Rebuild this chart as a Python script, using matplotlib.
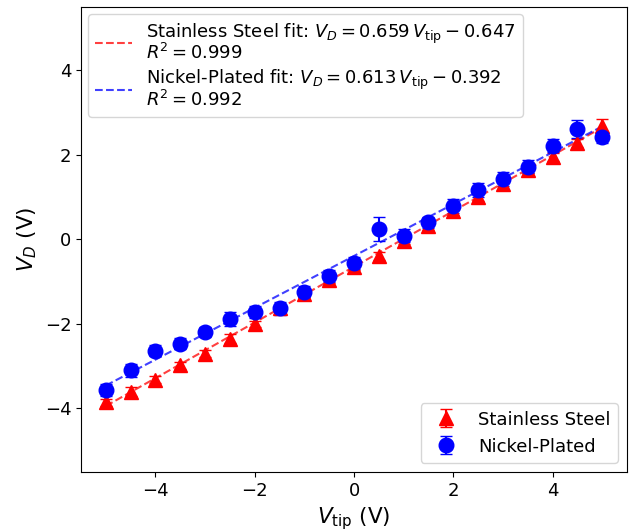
import matplotlib.pyplot as plt
import numpy as np

# tip voltage (V)
v_tip = [-5.0, -4.5, -4.0, -3.5, -3.0, -2.5, -2.0, -1.5, -1.0, -0.5, 0.0,
         0.5, 1.0, 1.5, 2.0, 2.5, 3.0, 3.5, 4.0, 4.5, 5.0]

# stainless steel measurements
vd_steel = [-3.85, -3.60, -3.32, -2.98, -2.70, -2.35, -2.00, -1.62, -1.30, -0.96, -0.65,
            -0.39, -0.03, 0.32, 0.66, 1.00, 1.30, 1.65, 1.95, 2.28, 2.68]
err_steel = [0.08, 0.10, 0.08, 0.09, 0.08, 0.10, 0.08, 0.09, 0.08, 0.08, 0.08,
             0.09, 0.08, 0.09, 0.08, 0.09, 0.10, 0.09, 0.10, 0.10, 0.16]

# nickel-plated measurements
vd_nickel = [-3.57, -3.10, -2.63, -2.47, -2.19, -1.88, -1.72, -1.63, -1.24, -0.86, -0.56,
             0.24, 0.09, 0.40, 0.79, 1.17, 1.43, 1.72, 2.22, 2.61, 2.42]
err_nickel = [0.14, 0.15, 0.12, 0.13, 0.12, 0.17, 0.14, 0.15, 0.13, 0.14, 0.14,
              0.28, 0.15, 0.14, 0.16, 0.16, 0.17, 0.16, 0.15, 0.21, 0.14]

# fit parameters (slope, intercept, R^2)
fit_steel = (0.659, -0.647, 0.999)
fit_nickel = (0.613, -0.392, 0.992)

x = np.array(v_tip)

fig = plt.figure(figsize=(6.33, 5.29), dpi=100)
ax = fig.add_axes([0.128, 0.108, 0.8626, 0.879])

h_steel = ax.errorbar(x, vd_steel, yerr=err_steel, fmt='^', color='red',
                      markersize=10, capsize=4, label='Stainless Steel')
h_nickel = ax.errorbar(x, vd_nickel, yerr=err_nickel, fmt='o', color='blue',
                       markersize=10.5, capsize=4, label='Nickel-Plated')

m, b, r2 = fit_steel
l_steel, = ax.plot(x, m * x + b, '--', color='red', alpha=0.75, lw=1.5,
                   label=rf'Stainless Steel fit: $V_D = {m:.3f}\,V_{{\rm tip}} - {-b:.3f}$'
                         '\n' rf'$R^2 = {r2:.3f}$')
m, b, r2 = fit_nickel
l_nickel, = ax.plot(x, m * x + b, '--', color='blue', alpha=0.75, lw=1.5,
                    label=rf'Nickel-Plated fit: $V_D = {m:.3f}\,V_{{\rm tip}} - {-b:.3f}$'
                          '\n' rf'$R^2 = {r2:.3f}$')

ax.set_xlim(-5.5, 5.5)
ax.set_ylim(-5.5, 5.5)
ax.set_xticks([-4, -2, 0, 2, 4])
ax.set_yticks([-4, -2, 0, 2, 4])
ax.tick_params(labelsize=13)
ax.set_xlabel(r'$V_{\rm tip}$ (V)', fontsize=15.5)
ax.set_ylabel(r'$V_D$ (V)', fontsize=15.5)

# upper legend: fit lines, tighter line spacing than default
leg1 = ax.legend(handles=[l_steel, l_nickel], loc='upper left', fontsize=13,
                 labelspacing=0.3, borderaxespad=0.4)
for t in leg1.get_texts():
    t.set_linespacing(0.82)
ax.add_artist(leg1)
ax.legend(handles=[h_steel, h_nickel], loc='lower right', fontsize=13)

fig.savefig('out.png')
